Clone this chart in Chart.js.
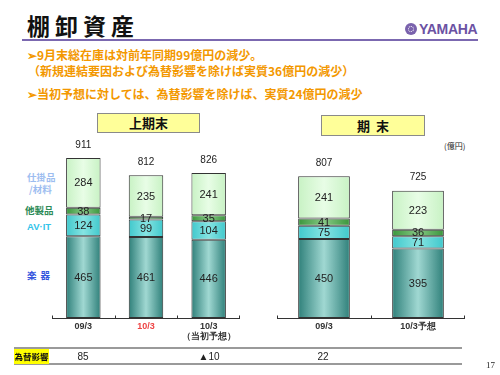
<!DOCTYPE html>
<html><head><meta charset="utf-8">
<script src="https://cdn.jsdelivr.net/npm/chart.js@4"></script>
<style>
html,body{margin:0;padding:0;background:#fff;width:500px;height:375px;overflow:hidden;}
body{position:relative;font-family:"Noto Sans CJK JP","Liberation Sans",sans-serif;}
.abs{position:absolute;white-space:nowrap;}
#title{left:27px;top:10px;font-size:23px;font-weight:bold;letter-spacing:5px;color:#111;line-height:30px;}
#rule{left:22px;top:39px;width:456px;height:2px;background:#7b68b0;}
#logo{left:405px;top:21px;height:16px;line-height:16px;color:#6b52a3;font-family:"Liberation Sans",Arial,sans-serif;font-weight:bold;font-size:14px;letter-spacing:-0.3px;}
#logo .ic{display:inline-block;width:12px;height:12px;border-radius:50%;background:#7a62ad;vertical-align:-1px;margin-right:2px;position:relative;}
#logo .ic:after{content:"";position:absolute;left:3px;top:3px;width:6px;height:6px;border-radius:50%;border:1px dotted #fff;box-sizing:border-box;}
.or{color:#f39800;font-weight:bold;font-size:12px;line-height:14px;}
.box{background:#ffff99;border:1px solid #8a8a8a;text-align:center;font-weight:bold;font-size:13px;color:#111;box-sizing:border-box;}
.leg{font-weight:bold;font-size:9.5px;line-height:12px;}
.hl{height:2px;background:#9a9a9a;left:14px;width:448px;}
.num{font-family:"Liberation Sans",Arial,sans-serif;font-size:10px;color:#222;transform:translate(-50%,-50%);}
canvas{display:block;}
</style></head>
<body>
<div id="title" class="abs">棚卸資産</div>
<div id="rule" class="abs"></div>
<div id="logo" class="abs"><span class="ic"></span>YAMAHA</div>

<div class="abs or" style="left:27px;top:48px;">➢9月末総在庫は対前年同期99億円の減少。</div>
<div class="abs or" style="left:28px;top:64px;">（新規連結要因および為替影響を除けば実質36億円の減少）</div>
<div class="abs or" style="left:27px;top:87px;">➢当初予想に対しては、為替影響を除けば、実質24億円の減少</div>

<div class="abs box" style="left:97px;top:113px;width:103px;height:20px;line-height:18px;">上期末</div>
<div class="abs box" style="left:321px;top:115px;width:104px;height:21px;line-height:19px;letter-spacing:6px;padding-left:6px;">期末</div>
<div class="abs" style="left:444px;top:140px;font-size:8px;color:#222;">(億円)</div>

<div class="abs leg" style="left:27px;top:171px;color:#9dbdf0;">仕掛品</div>
<div class="abs leg" style="left:29px;top:183px;color:#9dbdf0;">/材料</div>
<div class="abs leg" style="left:25px;top:204px;color:#2e8b57;">他製品</div>
<div class="abs leg" style="left:27px;top:221px;color:#33c4ea;font-family:'Liberation Sans',sans-serif;">AV·IT</div>
<div class="abs leg" style="left:27px;top:269px;color:#3355dd;letter-spacing:4px;">楽器</div>

<div class="abs" style="left:52px;top:133px;width:188px;height:215px;"><canvas id="c1" width="188" height="215"></canvas></div>
<div class="abs" style="left:277px;top:133px;width:188px;height:215px;"><canvas id="c2" width="188" height="215"></canvas></div>

<div class="abs hl" style="top:347px;"></div>
<div class="abs hl" style="top:363px;"></div>
<div class="abs" style="left:14px;top:349px;width:35px;height:15px;background:#ffff00;font-weight:bold;font-size:8.5px;line-height:15px;text-align:center;color:#111;">為替影響</div>
<div class="abs num" style="left:83px;top:356px;">85</div>
<div class="abs num" style="left:209px;top:356px;">▲10</div>
<div class="abs num" style="left:323px;top:356px;">22</div>
<div class="abs" style="left:486px;top:360px;font-family:'Liberation Serif',serif;font-size:9px;color:#222;">17</div>

<script>
// ---- data ----
const labelsH1 = [['09/3'], ['10/3'], ['10/3', '（当初予想）']];
const gakkiH1 = [465, 461, 446];
const avitH1 = [124, 99, 104];
const otherH1 = [38, 17, 35];
const wipH1 = [284, 235, 241];
const totalH1 = [911, 812, 826];

const labelsFY = ['09/3', '10/3予想'];
const gakkiFY = [450, 395];
const avitFY = [75, 71];
const otherFY = [41, 36];
const wipFY = [241, 223];
const totalFY = [807, 725];

const BP = 0.55;
const YMAX = 1053;

function grad(c0, c1) {
  return function (ctx) {
    const ch = ctx.chart;
    const xs = ch.scales && ch.scales.x;
    if (!xs || ctx.type !== 'data' || !xs.width) return c1;
    const cx = xs.getPixelForValue(ctx.dataIndex);
    const w = (xs.width / ch.data.labels.length) * BP;
    const g = ch.ctx.createLinearGradient(cx - w / 2, 0, cx + w / 2, 0);
    g.addColorStop(0, c0);
    g.addColorStop(0.5, c1);
    g.addColorStop(1, c0);
    return g;
  };
}

const labelPlugin = {
  id: 'lbl',
  afterDatasetsDraw(chart, args, opts) {
    const c = chart.ctx;
    c.save();
    c.textAlign = 'center';
    c.textBaseline = 'middle';
    c.fillStyle = '#222';
    c.font = '11px "Liberation Sans", Arial, sans-serif';
    chart.data.datasets.forEach((ds, di) => {
      const meta = chart.getDatasetMeta(di);
      meta.data.forEach((el, i) => {
        c.fillText(String(ds.data[i]), el.x, (el.y + el.base) / 2 + 0.5);
      });
    });
    const last = chart.getDatasetMeta(chart.data.datasets.length - 1);
    c.font = '10px "Liberation Sans", Arial, sans-serif';
    last.data.forEach((el, i) => {
      c.fillText(String(opts.totals[i]), el.x, el.y - 13);
    });
    const xs = chart.scales.x;
    const y0 = chart.chartArea.bottom + 0.5;
    c.strokeStyle = '#333';
    c.lineWidth = 1;
    c.beginPath();
    c.moveTo(xs.left, y0);
    c.lineTo(xs.right, y0);
    const n = chart.data.labels.length;
    for (let k = 0; k <= n; k++) {
      const x = Math.round(xs.left + (xs.width / n) * k) + (k === n ? -0.5 : 0.5);
      c.moveTo(x, y0);
      c.lineTo(x, y0 - 3);
    }
    c.stroke();
    c.restore();
  }
};

function makeChart(id, labels, gakki, avit, other, wip, totals, tickColors) {
  const common = { borderColor: '#333', borderWidth: 1, borderSkipped: false, barPercentage: BP, categoryPercentage: 1 };
  return new Chart(document.getElementById(id), {
    type: 'bar',
    data: {
      labels: labels,
      datasets: [
        Object.assign({ label: '楽器', data: gakki, backgroundColor: grad('#2f807a', '#a0d8d2') }, common),
        Object.assign({ label: 'AV・IT', data: avit, backgroundColor: grad('#40c8cc', '#86e4e2') }, common),
        Object.assign({ label: '他製品', data: other, backgroundColor: grad('#3a963c', '#86c884') }, common),
        Object.assign({ label: '仕掛品/材料', data: wip, backgroundColor: grad('#c8f2c4', '#e8fde6') }, common)
      ]
    },
    options: {
      responsive: false,
      animation: false,
      layout: { padding: 0 },
      plugins: { legend: { display: false }, tooltip: { enabled: false }, lbl: { totals: totals } },
      scales: {
        x: {
          stacked: true,
          offset: true,
          grid: { display: false, drawTicks: false },
          border: { display: false },
          afterFit: s => { s.height = 30; },
          ticks: {
            padding: 3,
            autoSkip: false,
            maxRotation: 0,
            font: { size: 9, weight: 'bold', family: '"Liberation Sans", Arial, sans-serif', lineHeight: 1.15 },
            color: c => tickColors[c.index] || '#333'
          }
        },
        y: { stacked: true, display: false, min: 0, max: YMAX }
      }
    },
    plugins: [labelPlugin]
  });
}

makeChart('c1', labelsH1, gakkiH1, avitH1, otherH1, wipH1, totalH1, ['#333', '#ee4444', '#333']);
makeChart('c2', labelsFY, gakkiFY, avitFY, otherFY, wipFY, totalFY, ['#333', '#333']);
</script>
</body></html>
